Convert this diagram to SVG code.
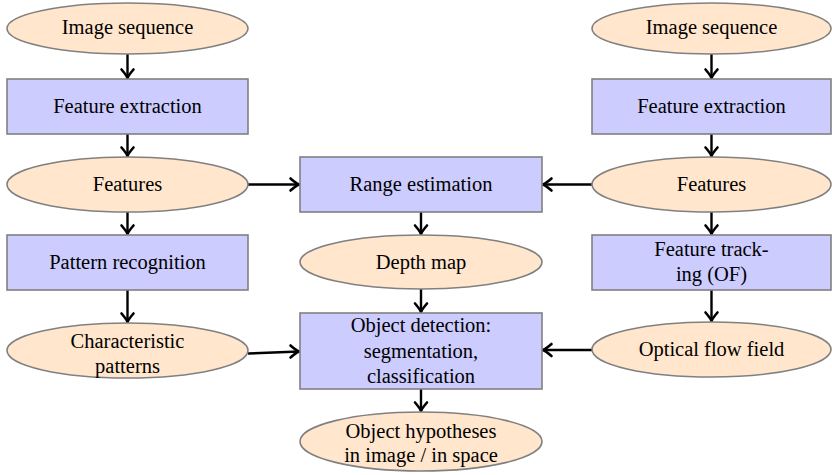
<svg xmlns="http://www.w3.org/2000/svg" width="832" height="475" viewBox="0 0 832 475">
  <style>
    .data ellipse { fill: #FFE6CC; stroke: #808080; stroke-width: 1.6; }
    .proc rect { fill: #CCCCFF; stroke: #808080; stroke-width: 1.6; }
    .edge { stroke: #000; stroke-width: 2.4; fill: none; }
    .tip { stroke: #000; stroke-width: 2.6; fill: none; stroke-linecap: round; stroke-linejoin: round; }
  </style>
  <defs>
    <!-- arrow tip pointing down, tip at origin -->
    <path id="tip-down" class="tip" d="M -6 -8.5 Q -1.2 -3 0 0 Q 1.2 -3 6 -8.5"/>
    <!-- arrow tip pointing right, tip at origin -->
    <path id="tip-right" class="tip" d="M -8.5 -6 Q -3 -1.2 0 0 Q -3 1.2 -8.5 6"/>
    <!-- arrow tip pointing left, tip at origin -->
    <path id="tip-left" class="tip" d="M 8.5 -6 Q 3 -1.2 0 0 Q 3 1.2 8.5 6"/>
  </defs>

  <rect width="832" height="475" fill="#fff"/>

  <!-- connectors -->
  <g id="edges">
    <line class="edge" x1="127.5" y1="54" x2="127.5" y2="78"/>
    <use href="#tip-down" x="127.5" y="78"/>
    <line class="edge" x1="127.5" y1="134" x2="127.5" y2="156"/>
    <use href="#tip-down" x="127.5" y="156"/>
    <line class="edge" x1="127.5" y1="212" x2="127.5" y2="234"/>
    <use href="#tip-down" x="127.5" y="234"/>
    <line class="edge" x1="127.5" y1="290" x2="127.5" y2="322"/>
    <use href="#tip-down" x="127.5" y="322"/>
    <line class="edge" x1="248" y1="184.5" x2="299" y2="184.5"/>
    <use href="#tip-right" x="299" y="184.5"/>
    <line class="edge" x1="248" y1="353.5" x2="299" y2="351.5"/>
    <use href="#tip-right" x="299" y="351.5"/>

    <line class="edge" x1="711.5" y1="54" x2="711.5" y2="78"/>
    <use href="#tip-down" x="711.5" y="78"/>
    <line class="edge" x1="711.5" y1="134" x2="711.5" y2="156"/>
    <use href="#tip-down" x="711.5" y="156"/>
    <line class="edge" x1="711.5" y1="212" x2="711.5" y2="234"/>
    <use href="#tip-down" x="711.5" y="234"/>
    <line class="edge" x1="711.5" y1="290" x2="711.5" y2="321"/>
    <use href="#tip-down" x="711.5" y="321"/>
    <line class="edge" x1="592" y1="184.5" x2="543" y2="184.5"/>
    <use href="#tip-left" x="543" y="184.5"/>
    <line class="edge" x1="592" y1="350" x2="543" y2="350"/>
    <use href="#tip-left" x="543" y="350"/>

    <line class="edge" x1="421" y1="212" x2="421" y2="234"/>
    <use href="#tip-down" x="421" y="234"/>
    <line class="edge" x1="421" y1="289" x2="421" y2="312"/>
    <use href="#tip-down" x="421" y="312"/>
    <line class="edge" x1="421" y1="389" x2="421" y2="411"/>
    <use href="#tip-down" x="421" y="411"/>
  </g>

  <!-- left chain -->
  <g id="img-seq-left" class="data">
    <ellipse cx="127.5" cy="28.5" rx="120.5" ry="25.5"/>
    <text x="127.5" y="34" font-family="Liberation Serif" font-size="20.5" text-anchor="middle">Image sequence</text>
  </g>
  <g id="feat-extract-left" class="proc">
    <rect x="7" y="79" width="241" height="55"/>
    <text x="127.5" y="113" font-family="Liberation Serif" font-size="20.5" text-anchor="middle">Feature extraction</text>
  </g>
  <g id="features-left" class="data">
    <ellipse cx="127.5" cy="184.5" rx="120.5" ry="27.5"/>
    <text x="127.5" y="191" font-family="Liberation Serif" font-size="20.5" text-anchor="middle">Features</text>
  </g>
  <g id="pattern-recog" class="proc">
    <rect x="7" y="235" width="241" height="55"/>
    <text x="127.5" y="269" font-family="Liberation Serif" font-size="20.5" text-anchor="middle">Pattern recognition</text>
  </g>
  <g id="char-patterns" class="data">
    <ellipse cx="127.5" cy="350.5" rx="120.5" ry="27.5"/>
    <text x="127.5" y="348" font-family="Liberation Serif" font-size="20.5" text-anchor="middle">Characteristic</text>
    <text x="127.5" y="373" font-family="Liberation Serif" font-size="20.5" text-anchor="middle">patterns</text>
  </g>

  <!-- middle chain -->
  <g id="range-est" class="proc">
    <rect x="300" y="157" width="242" height="55"/>
    <text x="421" y="191" font-family="Liberation Serif" font-size="20.5" text-anchor="middle">Range estimation</text>
  </g>
  <g id="depth-map" class="data">
    <ellipse cx="421" cy="262" rx="121" ry="27"/>
    <text x="421" y="268.5" font-family="Liberation Serif" font-size="20.5" text-anchor="middle">Depth map</text>
  </g>
  <g id="obj-detect" class="proc">
    <rect x="300" y="313" width="242" height="76"/>
    <text x="421" y="332" font-family="Liberation Serif" font-size="20.5" text-anchor="middle">Object detection:</text>
    <text x="421" y="357.5" font-family="Liberation Serif" font-size="20.5" text-anchor="middle">segmentation,</text>
    <text x="421" y="383" font-family="Liberation Serif" font-size="20.5" text-anchor="middle">classification</text>
  </g>
  <g id="obj-hyp" class="data">
    <ellipse cx="421" cy="441.5" rx="121" ry="29.5"/>
    <text x="421" y="438" font-family="Liberation Serif" font-size="20.5" text-anchor="middle">Object hypotheses</text>
    <text x="421" y="462" font-family="Liberation Serif" font-size="20.5" text-anchor="middle">in image / in space</text>
  </g>

  <!-- right chain -->
  <g id="img-seq-right" class="data">
    <ellipse cx="711.5" cy="28.5" rx="119.5" ry="25.5"/>
    <text x="711.5" y="34" font-family="Liberation Serif" font-size="20.5" text-anchor="middle">Image sequence</text>
  </g>
  <g id="feat-extract-right" class="proc">
    <rect x="592" y="79" width="239" height="55"/>
    <text x="711.5" y="113" font-family="Liberation Serif" font-size="20.5" text-anchor="middle">Feature extraction</text>
  </g>
  <g id="features-right" class="data">
    <ellipse cx="711.5" cy="184.5" rx="119.5" ry="27.5"/>
    <text x="711.5" y="191" font-family="Liberation Serif" font-size="20.5" text-anchor="middle">Features</text>
  </g>
  <g id="feat-track" class="proc">
    <rect x="592" y="235" width="239" height="55"/>
    <text x="711.5" y="256" font-family="Liberation Serif" font-size="20.5" text-anchor="middle">Feature track-</text>
    <text x="711.5" y="281" font-family="Liberation Serif" font-size="20.5" text-anchor="middle">ing (OF)</text>
  </g>
  <g id="optical-flow" class="data">
    <ellipse cx="711.5" cy="349.5" rx="119.5" ry="27.5"/>
    <text x="711.5" y="356" font-family="Liberation Serif" font-size="20.5" text-anchor="middle">Optical flow field</text>
  </g>
</svg>
